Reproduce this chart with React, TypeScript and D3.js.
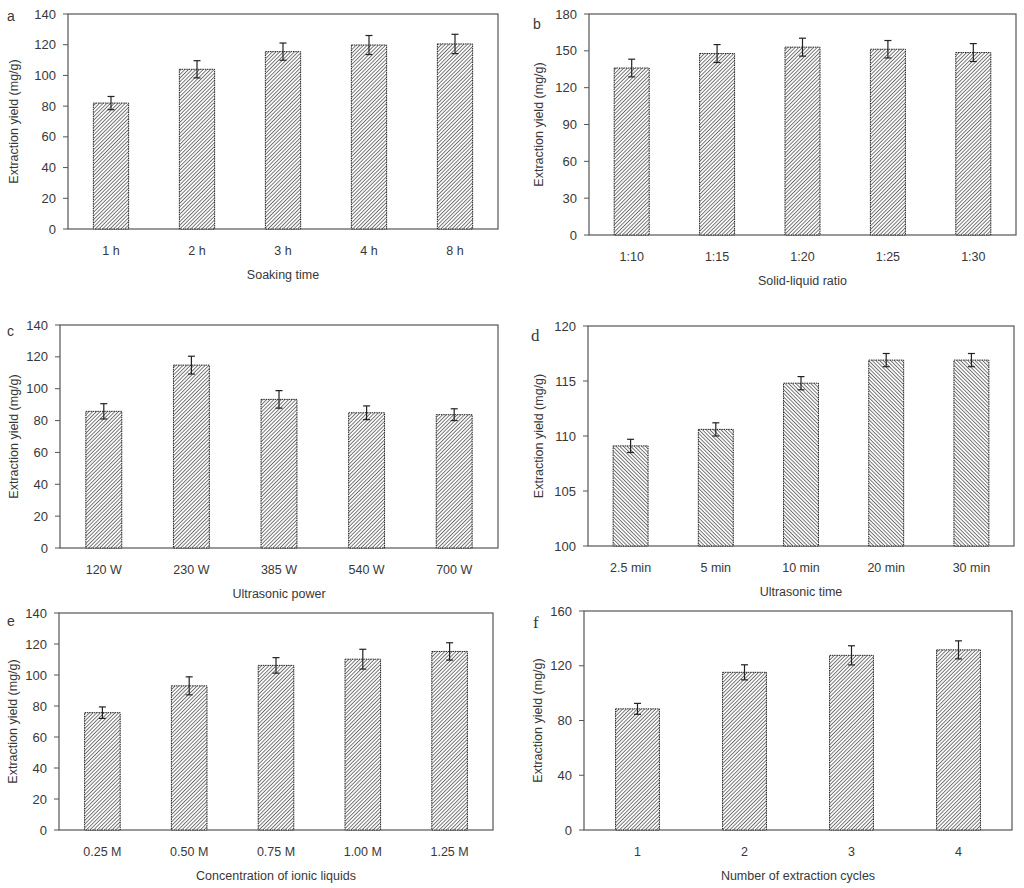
import React, { useEffect, useRef } from 'react';
import * as d3 from 'd3';

// panel a - soaking time
const soakCats = ['1 h', '2 h', '3 h', '4 h', '8 h'];
const soakVals = [82, 104, 115.5, 119.8, 120.5];
const soakErr = [4.3, 5.6, 5.6, 6.2, 6.3];

// panel b - solid-liquid ratio
const ratioCats = ['1:10', '1:15', '1:20', '1:25', '1:30'];
const ratioVals = [136, 147.8, 153, 151.3, 148.6];
const ratioErr = [7.2, 7.3, 7.3, 7.1, 7.3];

// panel c - ultrasonic power
const powerCats = ['120 W', '230 W', '385 W', '540 W', '700 W'];
const powerVals = [85.8, 114.8, 93.3, 84.9, 83.7];
const powerErr = [4.8, 5.6, 5.5, 4.3, 3.7];

// panel d - ultrasonic time
const timeCats = ['2.5 min', '5 min', '10 min', '20 min', '30 min'];
const timeVals = [109.1, 110.6, 114.8, 116.9, 116.9];
const timeErr = [0.6, 0.6, 0.6, 0.6, 0.6];

// panel e - concentration of ionic liquids
const concCats = ['0.25 M', '0.50 M', '0.75 M', '1.00 M', '1.25 M'];
const concVals = [75.7, 93, 106.2, 110.2, 115.2];
const concErr = [3.7, 5.8, 5.0, 6.4, 5.6];

// panel f - extraction cycles
const cycleCats = ['1', '2', '3', '4'];
const cycleVals = [88.5, 115.2, 127.6, 131.6];
const cycleErr = [4.0, 5.5, 7.0, 6.6];

const yTicksA = [0, 20, 40, 60, 80, 100, 120, 140];
const yTicksB = [0, 30, 60, 90, 120, 150, 180];
const yTicksD = [100, 105, 110, 115, 120];
const yTicksF = [0, 40, 80, 120, 160];

interface Panel {
  letter: string;
  serif: boolean;
  cats: string[];
  vals: number[];
  err: number[];
  ticks: number[];
  xTitle: string;
  hatch: string;
  box: [number, number, number, number]; // left, top, right, bottom
  lx: number;
  ly: number;
  tx: number;
}

const panels: Panel[] = [
  { letter: 'a', serif: false, cats: soakCats, vals: soakVals, err: soakErr, ticks: yTicksA, xTitle: 'Soaking time', hatch: 'hatchR', box: [68, 14, 498, 229], lx: 7, ly: 21, tx: 14 },
  { letter: 'b', serif: false, cats: ratioCats, vals: ratioVals, err: ratioErr, ticks: yTicksB, xTitle: 'Solid-liquid ratio', hatch: 'hatchR', box: [589, 14, 1016, 235], lx: 533, ly: 29, tx: 539 },
  { letter: 'c', serif: false, cats: powerCats, vals: powerVals, err: powerErr, ticks: yTicksA, xTitle: 'Ultrasonic power', hatch: 'hatchR', box: [60, 325, 498, 548], lx: 7, ly: 336, tx: 14 },
  { letter: 'd', serif: true, cats: timeCats, vals: timeVals, err: timeErr, ticks: yTicksD, xTitle: 'Ultrasonic time', hatch: 'hatchL', box: [588, 326, 1014, 546], lx: 531, ly: 341, tx: 539 },
  { letter: 'e', serif: false, cats: concCats, vals: concVals, err: concErr, ticks: yTicksA, xTitle: 'Concentration of ionic liquids', hatch: 'hatchR', box: [59, 613, 493, 830], lx: 7, ly: 626, tx: 13 },
  { letter: 'f', serif: true, cats: cycleCats, vals: cycleVals, err: cycleErr, ticks: yTicksF, xTitle: 'Number of extraction cycles', hatch: 'hatchR', box: [584, 611, 1012, 830], lx: 533, ly: 628, tx: 538 },
];

const FONT = 'Liberation Sans, Arial, sans-serif';
const TXT = '#383838';

const App: React.FC = () => {
  const ref = useRef<SVGSVGElement>(null);

  useEffect(() => {
    const svg = d3.select(ref.current);
    svg.selectAll('*').remove();

    const defs = svg.append('defs');
    const mkHatch = (id: string, rot: number) => {
      const s = 2.6;
      const p = defs.append('pattern')
        .attr('id', id)
        .attr('patternUnits', 'userSpaceOnUse')
        .attr('width', s)
        .attr('height', s)
        .attr('patternTransform', `rotate(${rot})`);
      p.append('rect').attr('width', s).attr('height', s).attr('fill', '#fafafa');
      p.append('line')
        .attr('x1', 0).attr('y1', 0).attr('x2', 0).attr('y2', s)
        .attr('stroke', '#555')
        .attr('stroke-width', 1.5);
    };
    mkHatch('hatchR', 45);
    mkHatch('hatchL', -45);

    panels.forEach(p => {
      const [l, t, r, b] = p.box;
      const g = svg.append('g');

      const x = d3.scaleBand<string>().domain(p.cats).range([l, r]).paddingInner(0.59).paddingOuter(0.295);
      const y = d3.scaleLinear().domain([p.ticks[0], p.ticks[p.ticks.length - 1]]).range([b, t]);

      // frame
      g.append('rect')
        .attr('x', l).attr('y', t)
        .attr('width', r - l).attr('height', b - t)
        .attr('fill', 'none')
        .attr('stroke', '#555')
        .attr('stroke-width', 1.2);

      // y ticks
      p.ticks.forEach(v => {
        g.append('line')
          .attr('x1', l - 5).attr('x2', l)
          .attr('y1', y(v)).attr('y2', y(v))
          .attr('stroke', '#555');
        g.append('text')
          .attr('x', l - 12)
          .attr('y', y(v) + 4.5)
          .attr('text-anchor', 'end')
          .style('font-family', FONT)
          .style('font-size', '13px')
          .attr('fill', TXT)
          .text(v);
      });

      // bars
      p.cats.forEach((c, i) => {
        const bx = x(c)!;
        const bw = x.bandwidth();
        g.append('rect')
          .attr('x', bx).attr('y', y(p.vals[i]))
          .attr('width', bw).attr('height', b - y(p.vals[i]))
          .attr('fill', `url(#${p.hatch})`)
          .attr('stroke', '#222')
          .attr('stroke-width', 1)
          .attr('stroke-dasharray', '1.5,0.8');

        const cx = bx + bw / 2;
        const hi = y(p.vals[i] + p.err[i]);
        const lo = y(p.vals[i] - p.err[i]);
        g.append('line').attr('x1', cx).attr('x2', cx).attr('y1', hi).attr('y2', lo).attr('stroke', '#222').attr('stroke-width', 1.2);
        g.append('line').attr('x1', cx - 3.5).attr('x2', cx + 3.5).attr('y1', hi).attr('y2', hi).attr('stroke', '#222').attr('stroke-width', 1.2);
        g.append('line').attr('x1', cx - 3.5).attr('x2', cx + 3.5).attr('y1', lo).attr('y2', lo).attr('stroke', '#222').attr('stroke-width', 1.2);

        g.append('text')
          .attr('x', cx)
          .attr('y', b + 26)
          .attr('text-anchor', 'middle')
          .style('font-family', FONT)
          .style('font-size', '12.5px')
          .attr('fill', TXT)
          .text(c);
      });

      // x title
      g.append('text')
        .attr('x', (l + r) / 2)
        .attr('y', b + 50)
        .attr('text-anchor', 'middle')
        .style('font-family', FONT)
        .style('font-size', '12.5px')
        .attr('fill', TXT)
        .text(p.xTitle);

      // y title
      g.append('text')
        .attr('transform', `translate(${p.tx + 4}, ${(t + b) / 2}) rotate(-90)`)
        .attr('text-anchor', 'middle')
        .style('font-family', FONT)
        .style('font-size', '12.5px')
        .attr('fill', TXT)
        .text('Extraction yield (mg/g)');

      // panel letter
      g.append('text')
        .attr('x', p.lx)
        .attr('y', p.ly)
        .style('font-family', p.serif ? 'Liberation Serif, Times New Roman, serif' : FONT)
        .style('font-size', p.serif ? '17px' : '14px')
        .attr('fill', TXT)
        .text(p.letter);
    });
  }, []);

  return (
    <svg
      ref={ref}
      width={1024}
      height={888}
      style={{ position: 'absolute', left: 0, top: 0, background: '#fff' }}
    />
  );
};

export default App;
